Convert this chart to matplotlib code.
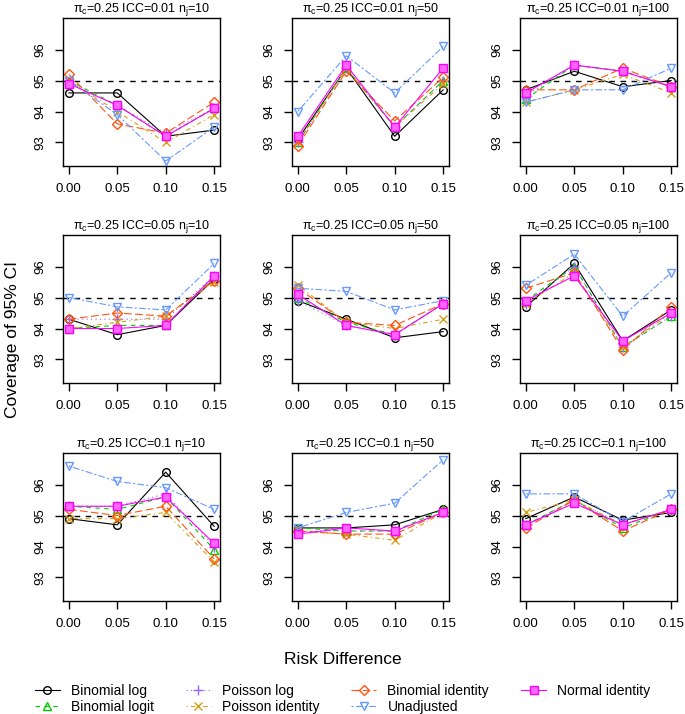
import matplotlib
matplotlib.use("Agg")
import matplotlib.pyplot as plt
from matplotlib.lines import Line2D

plt.rcParams['font.family'] = ['Liberation Sans', 'DejaVu Sans']
plt.rcParams['mathtext.fontset'] = 'custom'
plt.rcParams['mathtext.rm'] = 'Liberation Sans'
plt.rcParams['mathtext.it'] = 'Liberation Sans'

risk_diff = [0.00, 0.05, 0.10, 0.15]
methods = ["Binomial log", "Binomial logit", "Poisson log", "Poisson identity",
           "Binomial identity", "Unadjusted", "Normal identity"]
icc_labels = ["0.01", "0.05", "0.1"]
nj_labels = ["10", "50", "100"]

# coverage per panel (row = ICC, col = n_j); order follows `methods`
cov_icc001_nj10 = [[94.6, 94.6, 93.2, 93.4], [95.0, 94.2, 93.2, 94.1], [94.9, 94.2, 93.3, 94.1],
                   [95.0, 94.0, 93.0, 93.9], [95.2, 93.6, 93.3, 94.3], [95.0, 93.9, 92.4, 93.5],
                   [94.9, 94.2, 93.2, 94.1]]
cov_icc001_nj50 = [[93.1, 95.4, 93.2, 94.7], [93.0, 95.4, 93.5, 95.0], [93.0, 95.4, 93.5, 95.0],
                   [93.0, 95.4, 93.5, 94.9], [92.9, 95.3, 93.7, 95.1], [94.0, 95.8, 94.6, 96.1],
                   [93.2, 95.5, 93.5, 95.4]]
cov_icc001_nj100 = [[94.7, 95.3, 94.8, 95.0], [94.4, 95.5, 95.3, 94.8], [94.5, 95.5, 95.3, 94.8],
                    [94.3, 94.7, 95.2, 94.6], [94.7, 94.7, 95.4, 94.8], [94.3, 94.7, 94.7, 95.4],
                    [94.6, 95.5, 95.3, 94.8]]
cov_icc005_nj10 = [[94.3, 93.8, 94.1, 95.6], [94.0, 94.1, 94.1, 95.7], [94.3, 94.3, 94.3, 95.7],
                   [94.0, 94.2, 94.4, 95.5], [94.3, 94.5, 94.4, 95.55], [95.0, 94.7, 94.6, 96.1],
                   [94.0, 94.0, 94.1, 95.7]]
cov_icc005_nj50 = [[94.9, 94.3, 93.7, 93.9], [95.0, 94.2, 93.8, 94.8], [94.9, 94.1, 93.8, 94.8],
                   [95.4, 94.2, 94.0, 94.3], [95.3, 94.2, 94.1, 94.8], [95.3, 95.2, 94.6, 94.9],
                   [95.1, 94.1, 93.8, 94.8]]
cov_icc005_nj100 = [[94.7, 96.1, 93.6, 94.6], [94.9, 96.0, 93.4, 94.4], [94.8, 96.0, 93.4, 94.4],
                    [94.8, 95.8, 93.4, 94.5], [95.3, 95.8, 93.3, 94.7], [95.4, 96.4, 94.4, 95.8],
                    [94.9, 95.7, 93.6, 94.5]]
cov_icc01_nj10 = [[94.9, 94.7, 96.4, 94.65], [95.3, 95.2, 95.6, 93.9], [95.3, 95.3, 95.7, 94.0],
                  [94.9, 94.9, 95.1, 93.5], [95.2, 95.0, 95.3, 93.6], [96.6, 96.1, 95.9, 95.2],
                  [95.3, 95.3, 95.6, 94.1]]
cov_icc01_nj50 = [[94.6, 94.6, 94.7, 95.2], [94.6, 94.5, 94.5, 95.2], [94.5, 94.5, 94.5, 95.1],
                  [94.5, 94.4, 94.2, 95.1], [94.5, 94.4, 94.4, 95.1], [94.6, 95.1, 95.4, 96.8],
                  [94.4, 94.6, 94.5, 95.1]]
cov_icc01_nj100 = [[94.9, 95.6, 94.85, 95.1], [94.7, 95.5, 94.6, 95.2], [94.7, 95.5, 94.7, 95.2],
                   [95.1, 95.5, 94.7, 95.2], [94.6, 95.5, 94.5, 95.2], [95.7, 95.7, 94.8, 95.7],
                   [94.7, 95.4, 94.7, 95.2]]

panels = [[cov_icc001_nj10, cov_icc001_nj50, cov_icc001_nj100],
          [cov_icc005_nj10, cov_icc005_nj50, cov_icc005_nj100],
          [cov_icc01_nj10, cov_icc01_nj50, cov_icc01_nj100]]

colors = ["black", "#00CC00", "#9966FF", "#D4A017", "#FF5511", "#6699FF", "#FF00FF"]
markers = ["o", "^", "+", "x", "D", "v", "s"]
msizes = [5.5, 5.5, 6.5, 6, 5, 6, 5.5]
dashes = [None, (4, 4), (1, 3), (1, 3, 4, 3), (7, 3), (2, 2, 6, 2), None]
LW = 0.8

W, H = 685, 714
fig = plt.figure(figsize=(W / 100, H / 100), dpi=100)

lefts = [63, 292, 520]
tops = [18, 235, 453]
aw, ah = 157, 148


def style(i):
    kw = dict(color=colors[i], lw=LW, marker=markers[i], markersize=msizes[i],
              markerfacecolor="none", markeredgecolor=colors[i], markeredgewidth=1.0)
    if markers[i] == "s":
        kw.update(markerfacecolor="#FF66FF")
    return kw


for r in range(3):
    for c in range(3):
        ax = fig.add_axes([lefts[c] / W, 1 - (tops[r] + ah) / H, aw / W, ah / H])
        data = panels[r][c]
        ax.axhline(95, color="black", lw=1.0, ls=(0, (4, 4)), zorder=1)
        for i, m in enumerate(methods):
            line, = ax.plot(risk_diff, data[i], **style(i))
            if dashes[i] is not None:
                line.set_dashes(dashes[i])
        ax.set_xlim(-0.006, 0.156)
        ax.set_ylim(92.24, 97.02)
        ax.set_xticks(risk_diff)
        ax.set_xticklabels(["0.00", "0.05", "0.10", "0.15"])
        ax.set_yticks([93, 94, 95, 96])
        ax.set_yticklabels(["93", "94", "95", "96"], rotation=90, va="center")
        ax.tick_params(direction="out", length=6, width=1, labelsize=9.5, pad=6)
        for s in ax.spines.values():
            s.set_linewidth(1.0)
        ax.set_title(r"$\mathrm{\pi_c}$=0.25 ICC=" + icc_labels[r] + r" $\mathrm{n_j}$=" + nj_labels[c],
                     fontsize=9, pad=2.5)

fig.text(13 / W, 1 - 340 / H, "Coverage of 95% CI", rotation=90, ha="center", va="center", fontsize=12.5)
fig.text(343 / W, 1 - 659 / H, "Risk Difference", ha="center", va="center", fontsize=12.5)

handles = []
for i, m in enumerate(methods):
    h = Line2D([0], [0], **style(i))
    if dashes[i] is not None:
        h.set_dashes(dashes[i])
    handles.append(h)
fig.legend(handles, methods, loc="lower center", bbox_to_anchor=(0.5, -0.017), ncol=4,
           frameon=False, fontsize=10, handlelength=1.8, columnspacing=2.3,
           labelspacing=0.15, handletextpad=0.8)

fig.savefig("out.png", dpi=100)
